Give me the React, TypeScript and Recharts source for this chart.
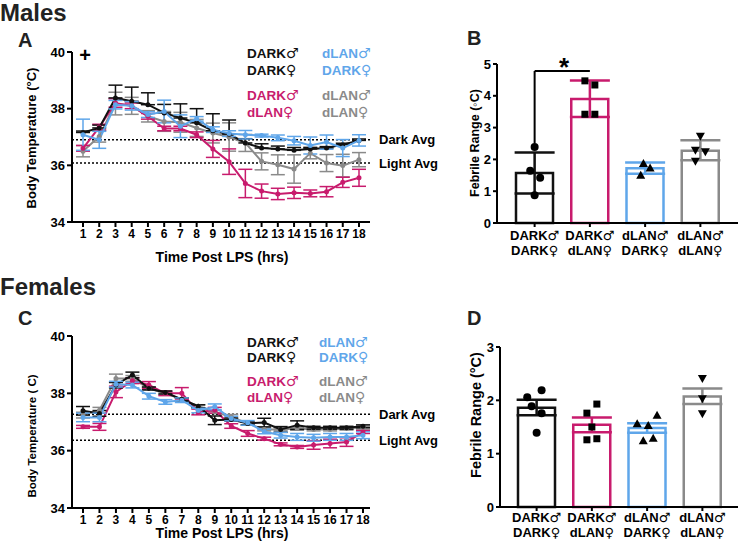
import React from 'react';
import {
  ComposedChart,
  Line,
  Bar,
  Cell,
  Scatter,
  XAxis,
  YAxis,
  ErrorBar,
  ReferenceLine,
} from 'recharts';

const FONT = '"Liberation Sans", Arial, sans-serif';
const SYM_FONT = '"DejaVu Sans", sans-serif';

const HOURS = [1, 2, 3, 4, 5, 6, 7, 8, 9, 10, 11, 12, 13, 14, 15, 16, 17, 18];

// colours: DARK♂DARK♀, DARK♂dLAN♀, dLAN♂DARK♀, dLAN♂dLAN♀
const BLACK = '#111111';
const MAGENTA = '#c81b6d';
const BLUE = '#5fa6ea';
const GRAY = '#8a8a8a';
const GROUP_COLORS = [BLACK, MAGENTA, BLUE, GRAY];

// ---- panel A (males) ----
const A_DD = [37.16, 37.32, 38.38, 38.26, 38.14, 37.85, 37.67, 37.5, 37.22, 37.1, 36.79, 36.61, 36.58, 36.53, 36.58, 36.61, 36.73, 36.88];
const A_DD_E = [0.05, 0.1, 0.45, 0.5, 0.42, 0.3, 0.5, 0.5, 0.6, 0.5, 0.15, 0.15, 0.1, 0.1, 0.05, 0.05, 0.05, 0.05];
const A_DL = [36.6, 37.35, 38.2, 38.1, 37.73, 37.3, 37.3, 37.08, 36.58, 36.13, 35.36, 35.09, 34.99, 35.03, 35.01, 35.07, 35.4, 35.56];
const A_DL_E = [0.1, 0.1, 0.15, 0.1, 0.1, 0.08, 0.08, 0.1, 0.3, 0.45, 0.5, 0.25, 0.2, 0.2, 0.12, 0.18, 0.18, 0.3];
const A_LD = [37.08, 36.9, 38.14, 38.1, 37.79, 37.9, 37.38, 37.64, 37.26, 37.12, 37.08, 37.05, 36.97, 36.87, 36.7, 36.82, 36.61, 36.88];
const A_LD_E = [0.55, 0.3, 0.15, 0.15, 0.1, 0.4, 0.4, 0.08, 0.1, 0.1, 0.15, 0.05, 0.1, 0.15, 0.3, 0.25, 0.3, 0.2];
const A_LL = [36.5, 37.02, 38.18, 38.1, 37.73, 37.55, 37.52, 37.32, 37.14, 37.0, 36.79, 36.14, 36.02, 35.87, 36.43, 36.08, 35.99, 36.2];
const A_LL_E = [0.2, 0.2, 0.4, 0.3, 0.2, 0.35, 0.35, 0.3, 0.35, 0.5, 0.3, 0.3, 0.35, 0.5, 0.2, 0.3, 0.4, 0.25];
const A_DARK_AVG = 36.9;
const A_LIGHT_AVG = 36.08;

// ---- panel C (females) ----
const C_DD = [37.39, 37.3, 38.29, 38.64, 38.17, 38.03, 37.79, 37.55, 37.06, 37.09, 36.95, 36.98, 36.74, 36.89, 36.8, 36.8, 36.8, 36.85];
const C_DD_E = [0.15, 0.1, 0.1, 0.1, 0.05, 0.05, 0.05, 0.05, 0.15, 0.05, 0.05, 0.15, 0.1, 0.15, 0.05, 0.05, 0.05, 0.05];
const C_DL = [36.83, 36.83, 38.05, 38.44, 38.29, 38.0, 38.0, 37.35, 37.41, 36.86, 36.6, 36.42, 36.22, 36.13, 36.2, 36.25, 36.3, 36.65];
const C_DL_E = [0.05, 0.12, 0.2, 0.1, 0.12, 0.08, 0.2, 0.1, 0.1, 0.08, 0.1, 0.05, 0.05, 0.05, 0.15, 0.15, 0.15, 0.05];
const C_LD = [37.16, 37.16, 38.32, 38.29, 37.9, 37.7, 37.76, 37.4, 37.53, 37.12, 36.97, 36.67, 36.54, 36.48, 36.45, 36.48, 36.48, 36.54];
const C_LD_E = [0.15, 0.15, 0.1, 0.1, 0.1, 0.08, 0.08, 0.08, 0.1, 0.08, 0.08, 0.08, 0.1, 0.12, 0.12, 0.12, 0.12, 0.12];
const C_LL = [37.24, 37.41, 38.52, 38.52, 38.17, 38.0, 37.79, 37.55, 37.35, 37.18, 36.95, 36.74, 36.74, 36.77, 36.74, 36.74, 36.77, 36.8];
const C_LL_E = [0.1, 0.1, 0.15, 0.1, 0.05, 0.05, 0.05, 0.05, 0.05, 0.08, 0.05, 0.05, 0.05, 0.05, 0.05, 0.05, 0.05, 0.05];
const C_DARK_AVG = 37.27;
const C_LIGHT_AVG = 36.36;

// ---- bar panels ----
const BAR_TOP = ['DARK♂', 'DARK♂', 'dLAN♂', 'dLAN♂'];
const BAR_BOT = ['DARK♀', 'dLAN♀', 'DARK♀', 'dLAN♀'];
const MARKERS = ['circle', 'square', 'triangle', 'down'];

const B_MEAN = [1.57, 3.9, 1.72, 2.27];
const B_LO = [0.64, 0.57, 0.17, 0.3];
const B_HI = [0.65, 0.58, 0.18, 0.33];
const B_PTS = [
  [2.39, 1.64, 1.42, 0.87],
  [4.47, 4.34, 3.42, 3.42],
  [1.87, 1.73, 1.5],
  [2.73, 2.29, 2.24, 1.94],
];
const B_JITTER = [
  [0, -0.08, 0.1, 0],
  [-0.09, 0.09, -0.09, 0.09],
  [-0.03, 0.09, -0.08],
  [0, -0.09, 0.09, -0.09],
];
const B_BRACKET = { from: 0, to: 1, low: 2.5, top: 4.78 };

const D_MEAN = [1.86, 1.54, 1.48, 2.07];
const D_LO = [0.14, 0.14, 0.09, 0.14];
const D_HI = [0.15, 0.14, 0.09, 0.15];
const D_PTS = [
  [2.06, 2.19, 1.89, 1.76, 1.39],
  [1.76, 1.93, 1.5, 1.26, 1.28],
  [1.56, 1.53, 1.72, 1.24, 1.29],
  [2.41, 2.03, 1.75],
];
const D_JITTER = [
  [-0.17, 0.09, -0.09, 0.09, 0],
  [-0.09, 0.09, 0, -0.09, 0.09],
  [-0.18, 0.02, 0.18, -0.07, 0.11],
  [0, 0, 0],
];

const axisStyle = { stroke: '#000', strokeWidth: 2 };
const tickStyle = { fill: '#000', fontSize: 13, fontWeight: 700, fontFamily: FONT };
const hourTick = { ...tickStyle, fontSize: 12 };

// label with the trailing ♂/♀ drawn in a thin symbol font
function withSym(label: string, size: number) {
  return (
    <>
      {label.slice(0, -1)}
      <tspan fontFamily={SYM_FONT} fontWeight={400} fontSize={size}>{label.slice(-1)}</tspan>
    </>
  );
}

function tempRows(dd: number[], ddE: number[], dl: number[], dlE: number[], ld: number[], ldE: number[], ll: number[], llE: number[], blackUpOnly: boolean) {
  return HOURS.map((h, i) => ({
    h,
    dd: dd[i],
    ddE: blackUpOnly ? [0, ddE[i]] : ddE[i],
    dl: dl[i],
    dlE: dlE[i],
    ld: ld[i],
    ldE: ldE[i],
    ll: ll[i],
    llE: llE[i],
  }));
}

const LINES = [
  { key: 'll', color: GRAY },
  { key: 'dl', color: MAGENTA },
  { key: 'dd', color: BLACK },
  { key: 'ld', color: BLUE },
];

function TempChart({ top, height, data, darkAvg, lightAvg, padLeft, padRight }: any) {
  const refLabel = { position: 'right', offset: 9, fill: '#000', fontSize: 13, fontWeight: 700, fontFamily: FONT };
  return (
    <div style={{ position: 'absolute', left: 0, top, width: 440, height }}>
      <ComposedChart width={440} height={height} data={data} margin={{ top: 12, right: 70, left: 22, bottom: 8 }}>
        <XAxis
          dataKey="h"
          type="number"
          domain={[1, 18]}
          ticks={HOURS}
          interval={0}
          padding={{ left: padLeft, right: padRight }}
          height={40}
          axisLine={axisStyle}
          tickLine={axisStyle}
          tick={hourTick}
          tickSize={5}
        />
        <YAxis
          domain={[34, 40]}
          ticks={[34, 36, 38, 40]}
          width={50}
          axisLine={axisStyle}
          tickLine={axisStyle}
          tick={tickStyle}
          tickSize={5}
        />
        <ReferenceLine y={darkAvg} stroke="#000" strokeWidth={1.5} strokeDasharray="2 2" label={{ value: 'Dark Avg', ...refLabel } as any} />
        <ReferenceLine y={lightAvg} stroke="#000" strokeWidth={1.5} strokeDasharray="2 2" label={{ value: 'Light Avg', ...refLabel } as any} />
        {LINES.map((s) => (
          <Line
            key={s.key}
            dataKey={s.key}
            type="linear"
            stroke={s.color}
            strokeWidth={2}
            dot={{ r: 1.5, fill: s.color, stroke: s.color }}
            isAnimationActive={false}
          >
            <ErrorBar dataKey={s.key + 'E'} direction="y" width={7} stroke={s.color} strokeWidth={1.5} />
          </Line>
        ))}
      </ComposedChart>
    </div>
  );
}

function marker(kind: string, cx: number, cy: number) {
  if (kind === 'circle') return <circle cx={cx} cy={cy} r={4} fill="#000" />;
  if (kind === 'square') return <rect x={cx - 3.5} y={cy - 3.5} width={7} height={7} fill="#000" />;
  if (kind === 'triangle') return <path d={`M${cx},${cy - 4.5}L${cx + 4.5},${cy + 3.5}L${cx - 4.5},${cy + 3.5}Z`} fill="#000" />;
  return <path d={`M${cx},${cy + 4.5}L${cx + 4.5},${cy - 3.5}L${cx - 4.5},${cy - 3.5}Z`} fill="#000" />;
}

function TwoLineTick(props: any) {
  const { x, y, payload, dy1 } = props;
  const i = Number(payload.value);
  return (
    <text x={x} y={y} textAnchor="middle" fill="#000" fontSize={13} fontWeight={700} fontFamily={FONT}>
      <tspan x={x} dy={dy1}>{withSym(BAR_TOP[i], 13)}</tspan>
      <tspan x={x} dy={15}>{withSym(BAR_BOT[i], 13)}</tspan>
    </text>
  );
}

function RangeChart({ left, top, width, height, marginTop, marginLeft, yMax, yTicks, means, lo, hi, pts, jitter, padLeft, padRight, dy1, bracket }: any) {
  const rows = means.map((m: number, i: number) => ({ g: i, mean: m }));
  return (
    <div style={{ position: 'absolute', left, top, width, height }}>
      <ComposedChart width={width} height={height} data={rows} margin={{ top: marginTop, right: 2, left: marginLeft, bottom: 5 }}>
        <XAxis
          dataKey="g"
          type="category"
          padding={{ left: padLeft, right: padRight }}
          height={50}
          axisLine={axisStyle}
          tickLine={axisStyle}
          tickSize={4}
          interval={0}
          tick={<TwoLineTick dy1={dy1} />}
        />
        <XAxis
          xAxisId="pts"
          dataKey="x"
          type="number"
          domain={[-0.5, 3.5]}
          padding={{ left: padLeft, right: padRight }}
          hide
        />
        <YAxis
          domain={[0, yMax]}
          ticks={yTicks}
          width={35}
          axisLine={axisStyle}
          tickLine={axisStyle}
          tick={tickStyle}
          tickSize={4}
        />
        <Bar dataKey="mean" barSize={37} fill="#fff" strokeWidth={2.5} isAnimationActive={false}>
          {GROUP_COLORS.map((c, i) => (
            <Cell key={i} fill="#fff" stroke={c} />
          ))}
        </Bar>
        {GROUP_COLORS.map((c, i) => (
          <Scatter
            key={'e' + i}
            xAxisId="pts"
            dataKey="y"
            data={[{ x: i, y: means[i], e: [lo[i], hi[i]] }]}
            shape={() => <g />}
            isAnimationActive={false}
          >
            <ErrorBar dataKey="e" direction="y" width={20} stroke={c} strokeWidth={2.5} />
          </Scatter>
        ))}
        {pts.map((vals: number[], i: number) => (
          <Scatter
            key={'p' + i}
            xAxisId="pts"
            dataKey="y"
            data={vals.map((v, j) => ({ x: i + jitter[i][j], y: v }))}
            shape={(p: any) => marker(MARKERS[i], p.cx, p.cy)}
            isAnimationActive={false}
          />
        ))}
        {bracket && (
          <ReferenceLine
            xAxisId="pts"
            segment={[{ x: bracket.from, y: bracket.low }, { x: bracket.from, y: bracket.top }]}
            stroke="#000"
            strokeWidth={2}
          />
        )}
        {bracket && (
          <ReferenceLine
            xAxisId="pts"
            segment={[{ x: bracket.from, y: bracket.top }, { x: bracket.to, y: bracket.top }]}
            stroke="#000"
            strokeWidth={2}
          />
        )}
      </ComposedChart>
    </div>
  );
}

function Legend({ x1, x2, y }: { x1: number; x2: number; y: number[] }) {
  const t = { fontSize: 13.5, fontWeight: 700, fontFamily: FONT };
  const s = 14;
  return (
    <g {...t}>
      <text x={x1} y={y[0]} fill={BLACK}>{withSym('DARK♂', s)}</text>
      <text x={x1} y={y[1]} fill={BLACK}>{withSym('DARK♀', s)}</text>
      <text x={x2} y={y[0]} fill={BLUE}>{withSym('dLAN♂', s)}</text>
      <text x={x2} y={y[1]} fill={BLUE}>{withSym('DARK♀', s)}</text>
      <text x={x1} y={y[2]} fill={MAGENTA}>{withSym('DARK♂', s)}</text>
      <text x={x1} y={y[3]} fill={MAGENTA}>{withSym('dLAN♀', s)}</text>
      <text x={x2} y={y[2]} fill={GRAY}>{withSym('dLAN♂', s)}</text>
      <text x={x2} y={y[3]} fill={GRAY}>{withSym('dLAN♀', s)}</text>
    </g>
  );
}

export default function App() {
  const dataA = tempRows(A_DD, A_DD_E, A_DL, A_DL_E, A_LD, A_LD_E, A_LL, A_LL_E, true);
  const dataC = tempRows(C_DD, C_DD_E, C_DL, C_DL_E, C_LD, C_LD_E, C_LL, C_LL_E, false);
  const bold = { fontWeight: 700, fontFamily: FONT };
  return (
    <div style={{ position: 'absolute', left: 0, top: 0, width: 740, height: 550, background: '#fff', overflow: 'hidden' }}>
      <TempChart top={40} height={230} data={dataA} darkAvg={A_DARK_AVG} lightAvg={A_LIGHT_AVG} padLeft={11} padRight={11} />
      <TempChart top={324} height={232} data={dataC} darkAvg={C_DARK_AVG} lightAvg={C_LIGHT_AVG} padLeft={11} padRight={7} />
      <RangeChart
        left={440} top={40} width={300} height={238} marginTop={24} marginLeft={22}
        yMax={5} yTicks={[0, 1, 2, 3, 4, 5]}
        means={B_MEAN} lo={B_LO} hi={B_HI} pts={B_PTS} jitter={B_JITTER}
        padLeft={10} padRight={10} dy1={11} bracket={B_BRACKET}
      />
      <RangeChart
        left={451} top={322} width={289} height={240} marginTop={25} marginLeft={14}
        yMax={3} yTicks={[0, 1, 2, 3]}
        means={D_MEAN} lo={D_LO} hi={D_HI} pts={D_PTS} jitter={D_JITTER}
        padLeft={9} padRight={8} dy1={9} bracket={null}
      />
      <svg width={740} height={550} style={{ position: 'absolute', left: 0, top: 0, pointerEvents: 'none' }}>
        <g {...bold} fill="#222">
          <text x={0} y={21} fontSize={24}>Males</text>
          <text x={0} y={295} fontSize={24}>Females</text>
          <text x={18} y={47} fontSize={20}>A</text>
          <text x={467} y={45} fontSize={20}>B</text>
          <text x={18} y={325} fontSize={20}>C</text>
          <text x={467} y={325} fontSize={20}>D</text>
        </g>
        <g {...bold} fill="#000">
          <text x={85} y={62} fontSize={20} textAnchor="middle">+</text>
          <text x={564} y={76} fontSize={26} textAnchor="middle">*</text>
          <text x={222} y={262} fontSize={14} textAnchor="middle">Time Post LPS (hrs)</text>
          <text x={222} y={538} fontSize={14} textAnchor="middle">Time Post LPS (hrs)</text>
          <text transform="translate(36,138) rotate(-90)" fontSize={13} textAnchor="middle">Body Temperature (°C)</text>
          <text transform="translate(36,436) rotate(-90)" fontSize={11.5} textAnchor="middle">Body Temperature ( C)</text>
          <text transform="translate(479,143) rotate(-90)" fontSize={12.5} textAnchor="middle">Febrile Range (◦C)</text>
          <text transform="translate(481,415) rotate(-90)" fontSize={14.5} textAnchor="middle">Febrile Range (°C)</text>
        </g>
        <Legend x1={247} x2={322} y={[58, 75, 100, 117]} />
        <Legend x1={247} x2={319} y={[347, 362, 386, 402]} />
      </svg>
    </div>
  );
}
